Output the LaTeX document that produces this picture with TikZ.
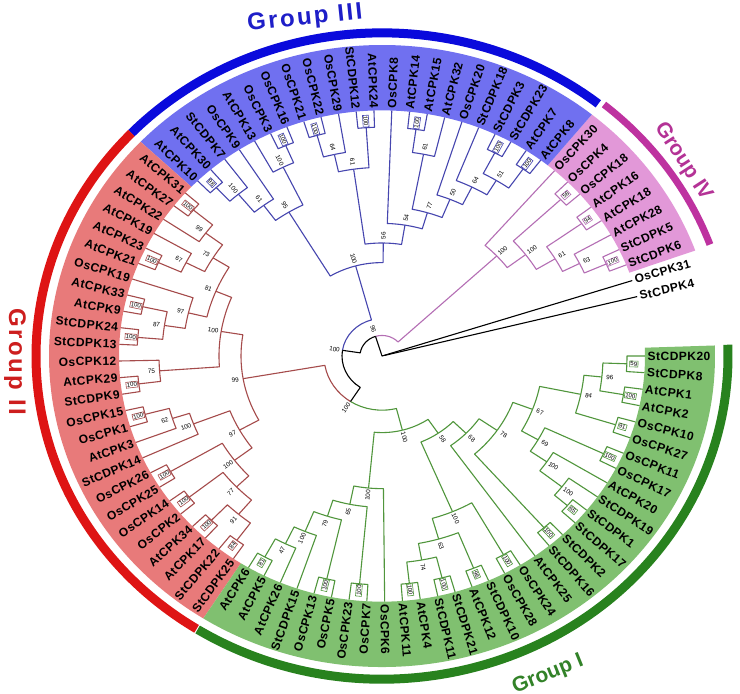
\documentclass[tikz,border=0pt]{standalone}
\usepackage{fontspec}
\setmainfont{Liberation Sans}
\newfontfamily\leaffont{Liberation Sans}[LetterSpace=4]
\newfontfamily\grpfont{Liberation Sans}[LetterSpace=10]
\definecolor{bandI}{RGB}{128,192,112}
\definecolor{bandII}{RGB}{232,122,122}
\definecolor{bandIII}{RGB}{112,112,240}
\definecolor{bandIV}{RGB}{226,152,216}
\definecolor{arcI}{RGB}{40,130,30}
\definecolor{arcII}{RGB}{222,20,20}
\definecolor{arcIII}{RGB}{10,10,220}
\definecolor{arcIV}{RGB}{190,50,160}
\definecolor{cI}{RGB}{80,150,60}
\definecolor{cII}{RGB}{165,75,75}
\definecolor{cIII}{RGB}{70,70,175}
\definecolor{cIV}{RGB}{180,110,180}
\definecolor{tI}{RGB}{50,130,40}
\definecolor{tII}{RGB}{205,30,30}
\definecolor{tIII}{RGB}{30,30,200}
\definecolor{tIV}{RGB}{180,50,150}
\makeatletter
\newcommand\setA[2]{\expandafter\xdef\csname trA@#1\endcsname{#2}}
\newcommand\getA[1]{\csname trA@#1\endcsname}
\makeatother
\tikzset{
 br/.style={line width=1.1pt, line join=round},
 leaflab/.style={font=\leaffont\bfseries\fontsize{12}{12}\selectfont, inner sep=0.5pt, text=black},
 bslab/.style={font=\fontsize{6.3}{7}\selectfont, inner sep=0.5pt, text=black},
 boxlab/.style={font=\fontsize{6}{7}\selectfont, inner sep=0.8pt, fill=white, line width=0.6pt, text=black},
 grplab/.style={font=\grpfont\bfseries\fontsize{24}{24}\selectfont, inner sep=0pt},
 grplabs/.style={font=\fontspec{Liberation Sans}\bfseries\fontsize{21}{21}\selectfont, inner sep=0pt},
}
% leaf: index, id, text
\newcommand\lf[3]{%
  \pgfmathsetmacro\tmpA{14+#1*3.8876}%
  \setA{#2}{\tmpA}%
  \coordinate (#2) at (\tmpA:263);%
  \pgfmathsetmacro\tmpS{atan2(0.934*sin(\tmpA),cos(\tmpA))}%
  \pgfmathtruncatemacro\tmpF{cos(\tmpA)>=0}%
  \ifnum\tmpF=1
    \node[leaflab,anchor=west,rotate=\tmpS] (#2-t) at (\tmpA:265) {#3};%
  \else
    \pgfmathsetmacro\tmpS{\tmpS+180}%
    \node[leaflab,anchor=east,rotate=\tmpS] (#2-t) at (\tmpA:265) {#3};%
  \fi}
% internal node geometry: id c1 c2 r col1 col2
\newcommand\ndx[6]{%
  \edef\trcA{\getA{#2}}\edef\trcB{\getA{#3}}%
  \pgfmathsetmacro\tmpM{(\trcA+\trcB)/2}%
  \setA{#1}{\tmpM}%
  \pgfmathsetmacro\tmpRy{0.934*#4}%
  \coordinate (#1) at (\tmpM:#4);%
  \coordinate (#1-a) at (\trcA:#4);%
  \coordinate (#1-b) at (\trcB:#4);%
  \draw[br,#5] (#2) -- (#1-a) arc[start angle=\trcA, end angle=\tmpM, x radius=#4pt, y radius=\tmpRy pt];%
  \draw[br,#6] (#3) -- (#1-b) arc[start angle=\trcB, end angle=\tmpM, x radius=#4pt, y radius=\tmpRy pt];%
  \pgfmathsetmacro\tmpS{atan2(0.934*sin(\tmpM),cos(\tmpM))}%
  \pgfmathtruncatemacro\tmpF{cos(\tmpM)>=0}%
  \ifnum\tmpF=0 \pgfmathsetmacro\tmpS{\tmpS+180}\fi}
% plain labelled node: id c1 c2 r label col1 col2
\newcommand\ndd[7]{%
  \ndx{#1}{#2}{#3}{#4}{#6}{#7}%
  \pgfmathsetmacro\tmpL{#4+8}%
  \node[bslab,rotate=\tmpS] (#1-l) at (\tmpM:\tmpL) {#5};}
\newcommand\nd[6]{\ndd{#1}{#2}{#3}{#4}{#5}{#6}{#6}}
% pair (cherry): id c1 c2 label col
\newcommand\pr[5]{%
  \ndx{#1}{#2}{#3}{245}{#5}{#5}%
  \node[boxlab,draw=#5,rotate=\tmpS] (#1-l) at (\tmpM:252) {#4};}
\newcommand\band[3]{%
  \fill[#3] (#1:263) arc[start angle=#1,end angle=#2,x radius=263pt,y radius=245.642pt] -- (#2:333) arc[start angle=#2,end angle=#1,x radius=333pt,y radius=311.022pt] -- cycle;}
\newcommand\garc[5]{%
  \pgfmathsetmacro\tmpRy{0.934*#3}%
  \draw[line width=#5pt,#4] (#1:#3) arc[start angle=#1,end angle=#2,x radius=#3pt,y radius=\tmpRy pt];}
\begin{document}
\begin{tikzpicture}[x=1pt,y=0.934pt]
\useasboundingbox (-382,-360.81) rectangle (358,381.16);
\fill[white] (-382,-360.81) rectangle (358,381.16);
% bands
\band{19.83}{50.93}{bandIV}
\band{50.93}{136.46}{bandIII}
\band{136.46}{237.54}{bandII}
\band{237.54}{361.94}{bandI}
% group arcs
\garc{51.3}{136.4}{346}{arcIII}{9}
\garc{20}{50.5}{349}{arcIV}{7}
\garc{136.4}{237.6}{346}{arcII}{9}
\garc{237.8}{362}{346}{arcI}{9}
% leaves
\lf{0}{L0}{StCDPK4}
\lf{1}{L1}{OsCPK31}
\lf{2}{L2}{StCDPK6}
\lf{3}{L3}{StCDPK5}
\lf{4}{L4}{AtCPK28}
\lf{5}{L5}{AtCPK18}
\lf{6}{L6}{AtCPK16}
\lf{7}{L7}{OsCPK18}
\lf{8}{L8}{OsCPK4}
\lf{9}{L9}{OsCPK30}
\lf{10}{L10}{AtCPK8}
\lf{11}{L11}{AtCPK7}
\lf{12}{L12}{StCDPK23}
\lf{13}{L13}{StCDPK3}
\lf{14}{L14}{StCDPK18}
\lf{15}{L15}{OsCPK20}
\lf{16}{L16}{AtCPK32}
\lf{17}{L17}{AtCPK15}
\lf{18}{L18}{AtCPK14}
\lf{19}{L19}{OsCPK8}
\lf{20}{L20}{AtCPK24}
\lf{21}{L21}{StCDPK12}
\lf{22}{L22}{OsCPK29}
\lf{23}{L23}{OsCPK22}
\lf{24}{L24}{OsCPK21}
\lf{25}{L25}{OsCPK16}
\lf{26}{L26}{OsCPK3}
\lf{27}{L27}{AtCPK13}
\lf{28}{L28}{OsCPK9}
\lf{29}{L29}{StCDPK7}
\lf{30}{L30}{AtCPK30}
\lf{31}{L31}{AtCPK10}
\lf{32}{L32}{AtCPK31}
\lf{33}{L33}{AtCPK27}
\lf{34}{L34}{AtCPK22}
\lf{35}{L35}{AtCPK19}
\lf{36}{L36}{AtCPK23}
\lf{37}{L37}{AtCPK21}
\lf{38}{L38}{OsCPK19}
\lf{39}{L39}{AtCPK33}
\lf{40}{L40}{AtCPK9}
\lf{41}{L41}{StCDPK24}
\lf{42}{L42}{StCDPK13}
\lf{43}{L43}{OsCPK12}
\lf{44}{L44}{AtCPK29}
\lf{45}{L45}{StCDPK9}
\lf{46}{L46}{OsCPK15}
\lf{47}{L47}{OsCPK1}
\lf{48}{L48}{AtCPK3}
\lf{49}{L49}{StCDPK14}
\lf{50}{L50}{OsCPK26}
\lf{51}{L51}{OsCPK25}
\lf{52}{L52}{OsCPK14}
\lf{53}{L53}{OsCPK2}
\lf{54}{L54}{AtCPK34}
\lf{55}{L55}{AtCPK17}
\lf{56}{L56}{StCDPK22}
\lf{57}{L57}{StCDPK25}
\lf{58}{L58}{AtCPK6}
\lf{59}{L59}{AtCPK5}
\lf{60}{L60}{AtCPK26}
\lf{61}{L61}{StCDPK15}
\lf{62}{L62}{OsCPK13}
\lf{63}{L63}{OsCPK5}
\lf{64}{L64}{OsCPK23}
\lf{65}{L65}{OsCPK7}
\lf{66}{L66}{OsCPK6}
\lf{67}{L67}{AtCPK11}
\lf{68}{L68}{AtCPK4}
\lf{69}{L69}{StCDPK11}
\lf{70}{L70}{StCDPK21}
\lf{71}{L71}{AtCPK12}
\lf{72}{L72}{StCDPK10}
\lf{73}{L73}{OsCPK28}
\lf{74}{L74}{OsCPK24}
\lf{75}{L75}{AtCPK25}
\lf{76}{L76}{StCDPK16}
\lf{77}{L77}{StCDPK2}
\lf{78}{L78}{StCDPK17}
\lf{79}{L79}{StCDPK1}
\lf{80}{L80}{StCDPK19}
\lf{81}{L81}{AtCPK20}
\lf{82}{L82}{OsCPK17}
\lf{83}{L83}{OsCPK11}
\lf{84}{L84}{OsCPK27}
\lf{85}{L85}{OsCPK10}
\lf{86}{L86}{AtCPK2}
\lf{87}{L87}{AtCPK1}
\lf{88}{L88}{StCDPK8}
\lf{89}{L89}{StCDPK20}
% Group IV
\pr{p23}{L2}{L3}{100}{cIV}
\nd{n63}{p23}{L4}{221}{63}{cIV}
\pr{p56}{L5}{L6}{94}{cIV}
\nd{n61iv}{n63}{p56}{202}{61}{cIV}
\pr{p78}{L7}{L8}{58}{cIV}
\nd{n100iv}{n61iv}{p78}{180}{100}{cIV}
\nd{gIV}{n100iv}{L9}{157}{100}{cIV}
% Group III
\pr{p1011}{L10}{L11}{100}{cIII}
\pr{p1213}{L12}{L13}{100}{cIII}
\nd{n51}{p1011}{p1213}{220}{51}{cIII}
\nd{n64a}{n51}{L14}{202}{64}{cIII}
\nd{n50}{n64a}{L15}{181}{50}{cIII}
\pr{p1718}{L17}{L18}{100}{cIII}
\nd{n61c}{L16}{p1718}{220}{61}{cIII}
\nd{n77}{n50}{n61c}{160}{77}{cIII}
\nd{n54}{n77}{L19}{142}{54}{cIII}
\pr{p2021}{L20}{L21}{100}{cIII}
\pr{p2324}{L23}{L24}{100}{cIII}
\nd{n64b}{L22}{p2324}{221}{64}{cIII}
\nd{n61b}{p2021}{n64b}{202}{61}{cIII}
\nd{n56}{n54}{n61b}{121}{56}{cIII}
\pr{p2526}{L25}{L26}{100}{cIII}
\nd{n100e}{p2526}{L27}{225}{100}{cIII}
\pr{p3031}{L30}{L31}{98}{cIII}
\nd{n100f}{L29}{p3031}{225}{100}{cIII}
\nd{n61d}{L28}{n100f}{200}{61}{cIII}
\nd{n95}{n100e}{n61d}{180}{95}{cIII}
\nd{gIII}{n56}{n95}{100}{100}{cIII}
% Group II
\pr{p3233}{L32}{L33}{100}{cII}
\nd{n99a}{p3233}{L34}{220}{99}{cII}
\pr{p3637}{L36}{L37}{100}{cII}
\nd{n67}{L35}{p3637}{220}{67}{cII}
\nd{n73}{n99a}{n67}{199}{73}{cII}
\pr{p3940}{L39}{L40}{100}{cII}
\pr{p4142}{L41}{L42}{100}{cII}
\nd{n87}{p3940}{p4142}{220}{87}{cII}
\nd{n97a}{L38}{n87}{199}{97}{cII}
\nd{n81}{n73}{n97a}{180}{81}{cII}
\pr{p4445}{L44}{L45}{100}{cII}
\nd{n75}{L43}{p4445}{223}{75}{cII}
\nd{n100g}{n81}{n75}{163}{100}{cII}
\pr{p4647}{L46}{L47}{100}{cII}
\nd{n62}{p4647}{L48}{220}{62}{cII}
\nd{n100h}{n62}{L49}{202}{100}{cII}
\pr{p5051}{L50}{L51}{100}{cII}
\pr{p5253}{L52}{L53}{100}{cII}
\pr{p5455}{L54}{L55}{100}{cII}
\pr{p5657}{L56}{L57}{84}{cII}
\nd{n91}{p5455}{p5657}{222}{91}{cII}
\nd{n77b}{p5253}{n91}{202}{77}{cII}
\nd{n100i}{p5051}{n77b}{185}{100}{cII}
\nd{n97b}{n100h}{n100i}{163}{97}{cII}
\nd{gII}{n100g}{n97b}{141}{99}{cII}
% Group I
\pr{p5859}{L58}{L59}{81}{cI}
\nd{n47}{p5859}{L60}{223}{47}{cI}
\nd{n100j}{n47}{L61}{203}{100}{cI}
\pr{p6263}{L62}{L63}{100}{cI}
\nd{n79}{n100j}{p6263}{180}{79}{cI}
\pr{p6465}{L64}{L65}{100}{cI}
\nd{n65}{n79}{p6465}{162}{65}{cI}
\nd{nL}{n65}{L66}{142}{100}{cI}
\pr{p6768}{L67}{L68}{100}{cI}
\pr{p6970}{L69}{L70}{100}{cI}
\nd{n74}{p6768}{p6970}{222}{74}{cI}
\pr{p7172}{L71}{L72}{96}{cI}
\nd{n63b}{n74}{p7172}{204}{63}{cI}
\pr{p7374}{L73}{L74}{100}{cI}
\nd{n100k}{n63b}{p7374}{181}{100}{cI}
\pr{p7677}{L76}{L77}{100}{cI}
\pr{p7879}{L78}{L79}{65}{cI}
\nd{n100l}{p7879}{L80}{228}{100}{cI}
\nd{n100m}{n100l}{L81}{200}{100}{cI}
\pr{p8283}{L82}{L83}{100}{cI}
\nd{n69}{n100m}{p8283}{180}{69}{cI}
\pr{p8485}{L84}{L85}{91}{cI}
\pr{p8687}{L86}{L87}{100}{cI}
\pr{p8889}{L88}{L89}{59}{cI}
\nd{n96b}{p8687}{p8889}{221}{96}{cI}
\nd{n84}{p8485}{n96b}{203}{84}{cI}
\nd{n67b}{n69}{n84}{161}{67}{cI}
\nd{n78}{p7677}{n67b}{140}{78}{cI}
\nd{n68}{L75}{n78}{118}{68}{cI}
\nd{n58}{n100k}{n68}{100}{58}{cI}
\nd{gI}{nL}{n58}{82}{100}{cI}
% root region
\ndd{nab}{gII}{gI}{58}{100}{cII}{cI}
\ndd{ntop}{gIII}{nab}{40}{100}{cIII}{black}
\ndd{n96}{gIV}{ntop}{22}{96}{cIV}{black}
\ndx{og}{L0}{L1}{3}{black}{black}
\coordinate (root) at (0,0);
\draw[br,black] (n96) -- (root) -- (og);
% group labels
\node[grplab,text=tIII,rotate=6] (lab3) at (-77,361) {Group III};
\node[grplab,text=tII,rotate=-90] (lab2) at (-367,-6) {Group II};
\node[grplabs,text=tI,rotate=22] (lab1) at (166,-341) {Group I};
\node[grplabs,text=tIV,rotate=-57] (lab4) at (301,208) {Group IV};
\end{tikzpicture}
\end{document}
